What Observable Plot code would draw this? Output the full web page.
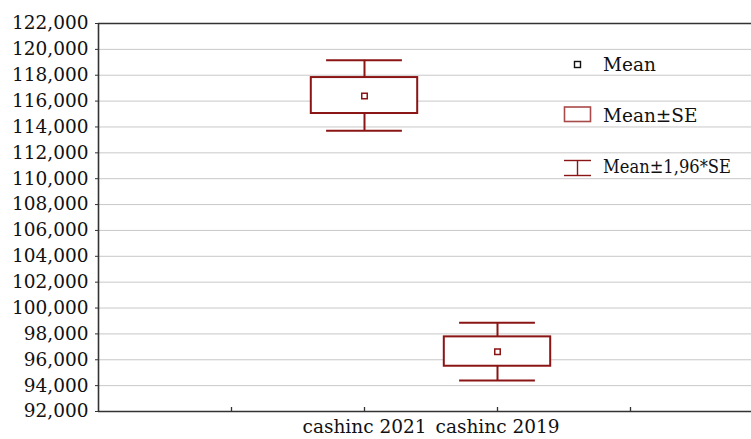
<!DOCTYPE html>
<html>
<head>
<meta charset="utf-8">
<script src="https://cdn.jsdelivr.net/npm/d3@7"></script>
<script src="https://cdn.jsdelivr.net/npm/@observablehq/plot@0.6"></script>
<style>
  html, body { margin: 0; padding: 0; background: #fff; }
  #wrap { position: relative; width: 751px; height: 439px; overflow: hidden; }
  #legend { position: absolute; left: 560px; top: 50px; }
  #legend text { font-family: "DejaVu Serif", serif; font-size: 18.5px; fill: #111; }
</style>
</head>
<body>
<div id="wrap"></div>
<script>
// Data
const categories = ["cashinc 2021", "cashinc 2019"];
const means  = [116400, 96620];
const seLow  = [115040, 95500];
const seHigh = [117820, 97770];
const ciLow  = [113700, 94390];
const ciHigh = [119150, 98860];
const yTickValues = [92000, 94000, 96000, 98000, 100000, 102000, 104000, 106000, 108000, 110000, 112000, 114000, 116000, 118000, 120000, 122000];
const legendLabels = ["Mean", "Mean±SE", "Mean±1,96*SE"];

const dark = "#8b1414";
const data = categories.map((c, i) => ({
  cat: c, pos: i + 2, mean: means[i], seLow: seLow[i], seHigh: seHigh[i], ciLow: ciLow[i], ciHigh: ciHigh[i]
}));
const slots = [1, 2, 3, 4];
const labelAt = new Map(data.map(d => [d.pos, d.cat]));

const marginLeft = 98, marginTop = 23, marginBottom = 28, width = 751, height = 439;
const plotH = height - marginTop - marginBottom;

const chart = Plot.plot({
  width, height,
  marginLeft, marginTop, marginBottom, marginRight: 0,
  style: { fontFamily: "'DejaVu Serif', serif", fontSize: "18.5px", color: "#111", background: "#fff" },
  x: { domain: [0, (width - marginLeft) / 133], axis: null },
  y: { domain: [92000, 122000], axis: null },
  marks: [
    Plot.gridY(yTickValues, { stroke: "#c8c8c8", strokeOpacity: 1, strokeWidth: 1 }),
    Plot.axisY(yTickValues, { tickFormat: d3.format(","), tickSize: 3, tickPadding: 7, label: null, stroke: "#333", fill: "#111" }),
    Plot.axisX(slots, { tickFormat: d => labelAt.get(d) ?? "", tickSize: 0, tickPadding: 8, label: null, fill: "#111" }),
    Plot.tickX(slots, { x: d => d, stroke: "#333", strokeWidth: 1.3, insetTop: plotH - 4 }),
    Plot.ruleY([92000, 122000], { stroke: "#333", strokeWidth: 1.6 }),
    Plot.ruleX([0], { stroke: "#333", strokeWidth: 1.6 }),
    // whiskers
    Plot.ruleX(data, { x: "pos", y1: "seHigh", y2: "ciHigh", stroke: dark, strokeWidth: 2 }),
    Plot.ruleX(data, { x: "pos", y1: "ciLow", y2: "seLow", stroke: dark, strokeWidth: 2 }),
    Plot.ruleY(data, { y: "ciHigh", x1: d => d.pos - 0.285, x2: d => d.pos + 0.285, stroke: dark, strokeWidth: 2 }),
    Plot.ruleY(data, { y: "ciLow", x1: d => d.pos - 0.285, x2: d => d.pos + 0.285, stroke: dark, strokeWidth: 2 }),
    // boxes
    Plot.rect(data, { x1: d => d.pos - 0.4, x2: d => d.pos + 0.4, y1: "seLow", y2: "seHigh", fill: "white", stroke: dark, strokeWidth: 2 }),
    // means
    Plot.dot(data, { x: "pos", y: "mean", symbol: "square", r: 3.1, fill: "white", stroke: dark, strokeWidth: 1.5 })
  ]
});

const wrap = document.getElementById("wrap");
wrap.appendChild(chart);

// Legend
const ns = "http://www.w3.org/2000/svg";
const lg = document.createElementNS(ns, "svg");
lg.setAttribute("id", "legend");
lg.setAttribute("width", "190");
lg.setAttribute("height", "135");
lg.innerHTML = `
  <rect x="14.5" y="11.5" width="6" height="6" fill="white" stroke="#111" stroke-width="1.4"/>
  <text x="43" y="21">${legendLabels[0]}</text>
  <rect x="4.5" y="57" width="26" height="14.5" fill="white" stroke="#a84a4a" stroke-width="1.6"/>
  <text x="43" y="72">${legendLabels[1]}</text>
  <line x1="4" x2="31" y1="110.5" y2="110.5" stroke="${dark}" stroke-width="1.4"/>
  <line x1="4" x2="31" y1="125.5" y2="125.5" stroke="${dark}" stroke-width="1.4"/>
  <line x1="17.5" x2="17.5" y1="110.5" y2="125.5" stroke="${dark}" stroke-width="1.4"/>
  <text x="43" y="123" textLength="128" lengthAdjust="spacingAndGlyphs">${legendLabels[2]}</text>
`;
wrap.appendChild(lg);
</script>
</body>
</html>
